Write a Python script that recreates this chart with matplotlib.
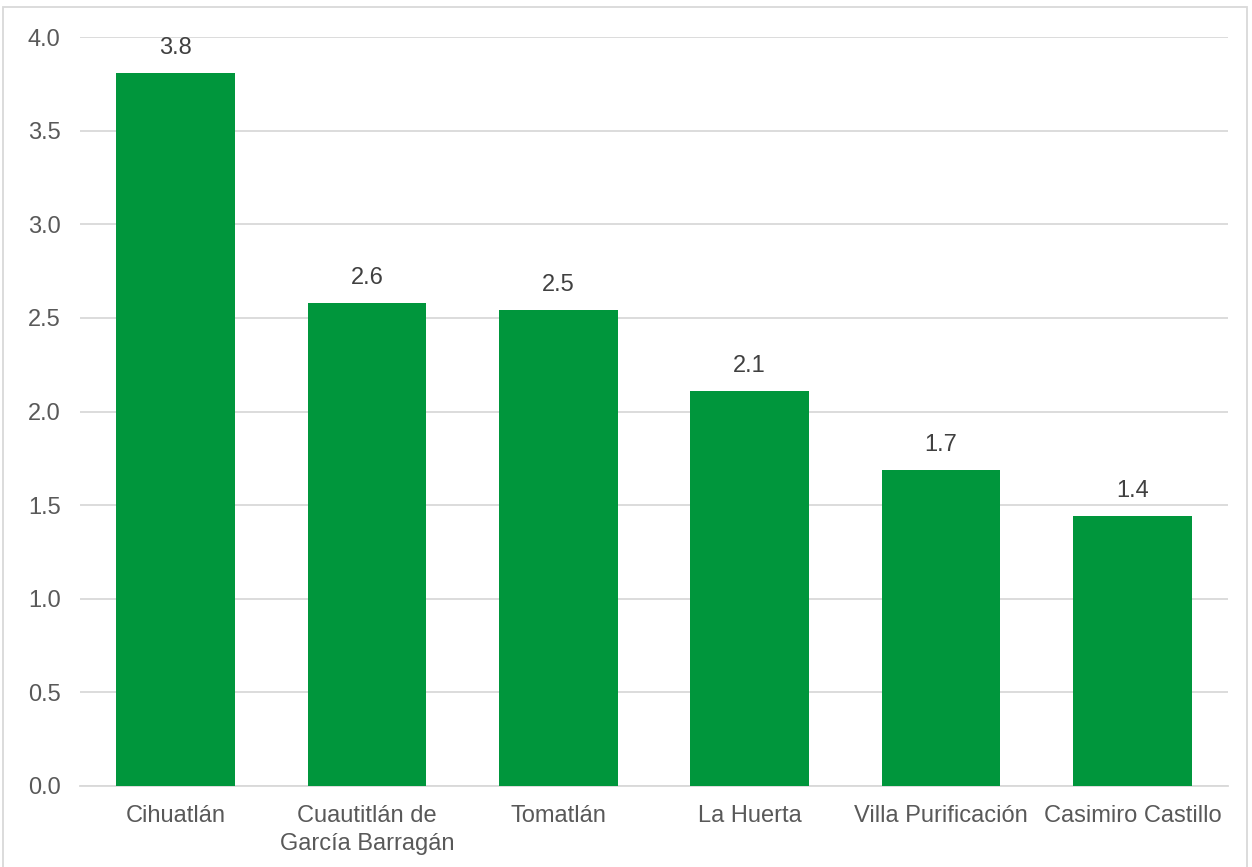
import matplotlib.pyplot as plt
from matplotlib.patches import Rectangle

plt.rcParams['font.family'] = ['Liberation Sans', 'DejaVu Sans']

municipios = ['Cihuatlán', 'Cuautitlán de\nGarcía Barragán', 'Tomatlán',
              'La Huerta', 'Villa Purificación', 'Casimiro Castillo']
valores = [3.81, 2.58, 2.54, 2.11, 1.69, 1.44]
etiquetas = ['3.8', '2.6', '2.5', '2.1', '1.7', '1.4']
yticks = [0.0, 0.5, 1.0, 1.5, 2.0, 2.5, 3.0, 3.5, 4.0]

W, H = 1252, 867
fig = plt.figure(figsize=(W / 100, H / 100), dpi=100)
ax = fig.add_axes([80 / W, 1 - 786 / H, (1228 - 80) / W, (786 - 37) / H])

gris = '#595959'
fs = 17
x = range(len(municipios))
bars = ax.bar(x, valores, width=0.62, color='#00963c', zorder=3)
for b, lab in zip(bars, etiquetas):
    ax.text(b.get_x() + b.get_width() / 2, b.get_height() + 0.075, lab,
            ha='center', va='bottom', fontsize=fs, color='#404040')

ax.set_xlim(-0.5, len(municipios) - 0.5)
ax.set_ylim(0, 4.0)
ax.set_yticks(yticks)
ax.set_yticklabels([f'{v:.1f}' for v in yticks])
ax.set_xticks(list(x))
ax.set_xticklabels(municipios, linespacing=1.3)
ax.grid(axis='y', color='#d9d9d9', linewidth=1.3, zorder=0)
ax.tick_params(axis='both', length=0, labelsize=fs, labelcolor=gris)
ax.tick_params(axis='y', pad=14)
ax.tick_params(axis='x', pad=14)
for s in ['top', 'right', 'left']:
    ax.spines[s].set_visible(False)
ax.spines['bottom'].set_color('#d9d9d9')
ax.spines['bottom'].set_linewidth(1.3)

fig.patches.append(Rectangle((3 / W, -0.05), (1247 - 3) / W, 1.05 - 7 / H,
                             transform=fig.transFigure, fill=False,
                             edgecolor='#d9d9d9', linewidth=1.3))

fig.savefig('out.png', dpi=100)
